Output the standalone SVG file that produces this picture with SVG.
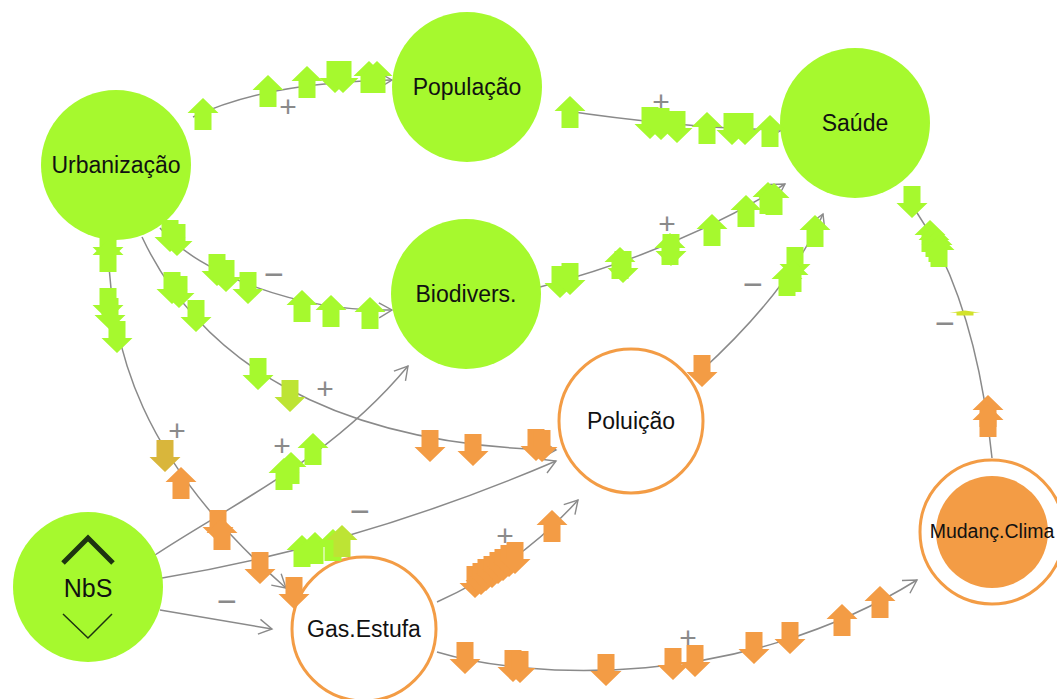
<svg xmlns="http://www.w3.org/2000/svg" xmlns:xlink="http://www.w3.org/1999/xlink" width="1057" height="699" viewBox="0 0 1057 699">
  <style>
    .lnk { fill: none; stroke: #8a8a8a; stroke-width: 1.5; }
    .sgn { font-family: "Liberation Sans", Arial, sans-serif; fill: #8a8a8a; text-anchor: middle; }
    .pl { font-size: 30px; }
    .mn { font-size: 34px; }
    .lbl { font-family: "Liberation Sans", Arial, sans-serif; fill: #111; text-anchor: middle; font-size: 23px; }
    .gn { fill: #a6f92e; }
    .yg { fill: #bde434; }
    .oc { fill: #d9b63b; }
    .or { fill: #f39c45; }
    .ye { fill: #d2e22c; }
    .ring { fill: #fff; stroke: #f39c45; stroke-width: 3; }
  </style>
  <defs>
    <marker id="ah" viewBox="-15 -9 17 18" refX="0" refY="0" markerWidth="17" markerHeight="18" orient="auto" markerUnits="userSpaceOnUse">
      <path d="M-13,-7.5 L0,0 L-13,7.5" fill="none" stroke="#8a8a8a" stroke-width="1.4"/>
    </marker>
    <path id="up" d="M0,-16 L15.5,-1 L8.5,-1 L8.5,16 L-8.5,16 L-8.5,-1 L-15.5,-1 Z"/>
    <path id="dn" d="M0,16 L15.5,1 L8.5,1 L8.5,-16 L-8.5,-16 L-8.5,1 L-15.5,1 Z"/>
  </defs>

  <!-- connectors -->
  <g id="connectors">
    <path class="lnk" d="M193,117 C240,95 300,82 392,80" marker-end="url(#ah)"/>
    <path class="lnk" d="M560,110 Q680,128 782,130" marker-end="url(#ah)"/>
    <path class="lnk" d="M160,228 C200,275 300,312 392,310" marker-end="url(#ah)"/>
    <path class="lnk" d="M540,287 Q680,250 785,184" marker-end="url(#ah)"/>
    <path class="lnk" d="M700,372 Q790,290 823,214" marker-end="url(#ah)"/>
    <path class="lnk" d="M992,458 Q975,290 908,200" marker-end="url(#ah)"/>
    <path class="lnk" d="M142,237 C200,360 330,445 556,450" marker-end="url(#ah)"/>
    <path class="lnk" d="M108,240 C110,350 140,460 286,588" marker-end="url(#ah)"/>
    <path class="lnk" d="M155,555 C230,505 330,460 408,366" marker-end="url(#ah)"/>
    <path class="lnk" d="M162,578 Q360,545 556,461" marker-end="url(#ah)"/>
    <path class="lnk" d="M160,610 Q220,620 272,629" marker-end="url(#ah)"/>
    <path class="lnk" d="M437,602 Q520,565 578,500" marker-end="url(#ah)"/>
    <path class="lnk" d="M437,652 C530,680 740,690 917,580" marker-end="url(#ah)"/>

    <!-- polarity signs -->
    <text class="sgn pl" x="288" y="117">+</text>
    <text class="sgn pl" x="661" y="112">+</text>
    <text class="sgn mn" x="274" y="286">−</text>
    <text class="sgn pl" x="667" y="234">+</text>
    <text class="sgn mn" x="753" y="296">−</text>
    <text class="sgn mn" x="945" y="335">−</text>
    <text class="sgn pl" x="325" y="399">+</text>
    <text class="sgn pl" x="177" y="441">+</text>
    <text class="sgn pl" x="282" y="456">+</text>
    <text class="sgn mn" x="360" y="523">−</text>
    <text class="sgn mn" x="227" y="613">−</text>
    <text class="sgn pl" x="505" y="546">+</text>
    <text class="sgn pl" x="688" y="648">+</text>
  </g>

  <!-- nodes -->
  <g id="node-populacao">
    <circle class="gn" cx="467" cy="87" r="75"/>
    <text class="lbl" x="467" y="95">População</text>
  </g>
  <g id="node-saude">
    <circle class="gn" cx="855" cy="123" r="75"/>
    <text class="lbl" x="855" y="131">Saúde</text>
  </g>
  <g id="node-urbanizacao">
    <circle class="gn" cx="116" cy="165" r="75"/>
    <text class="lbl" x="116" y="173">Urbanização</text>
  </g>
  <g id="node-biodivers">
    <circle class="gn" cx="466" cy="294" r="75"/>
    <text class="lbl" x="466" y="302">Biodivers.</text>
  </g>
  <g id="node-poluicao">
    <circle class="ring" cx="631" cy="421" r="72"/>
    <text class="lbl" x="631" y="429">Poluição</text>
  </g>
  <g id="node-nbs">
    <circle class="gn" cx="88" cy="587" r="75"/>
    <path d="M63,563 L88,538 L113,563" fill="none" stroke="#1d3410" stroke-width="5"/>
    <path d="M63,614 L88,638 L112,614" fill="none" stroke="#1d3410" stroke-width="1.5"/>
    <text class="lbl" x="88" y="597" style="font-size:25px">NbS</text>
  </g>
  <g id="node-gas-estufa">
    <circle class="ring" cx="364" cy="629" r="72"/>
    <text class="lbl" x="364" y="637">Gas.Estufa</text>
  </g>
  <g id="node-mudanca-clima">
    <circle class="ring" cx="992" cy="532" r="72"/>
    <circle class="or" cx="992" cy="532" r="56"/>
    <text class="lbl" x="992" y="538" style="font-size:19.5px">Mudanç.Clima</text>
  </g>

  <!-- flow indicators along the connectors -->
  <g id="flow-marks">
    <!-- Urbanização to População -->
    <use xlink:href="#up" class="gn" x="203" y="114"/>
    <use xlink:href="#up" class="gn" x="268" y="91"/>
    <use xlink:href="#up" class="gn" x="307" y="82"/>
    <use xlink:href="#dn" class="gn" x="335" y="77"/>
    <use xlink:href="#dn" class="gn" x="343" y="77"/>
    <use xlink:href="#up" class="gn" x="369" y="77"/>
    <use xlink:href="#up" class="gn" x="377" y="77"/>

    <!-- População to Saúde -->
    <use xlink:href="#up" class="gn" x="570" y="112"/>
    <use xlink:href="#dn" class="gn" x="650" y="123"/>
    <use xlink:href="#dn" class="gn" x="661" y="124"/>
    <use xlink:href="#dn" class="gn" x="677" y="127"/>
    <use xlink:href="#up" class="gn" x="707" y="128"/>
    <use xlink:href="#dn" class="gn" x="732" y="129"/>
    <use xlink:href="#dn" class="gn" x="745" y="129"/>
    <use xlink:href="#up" class="gn" x="770" y="131"/>

    <!-- Urbanização to Biodivers. -->
    <use xlink:href="#dn" class="gn" x="170" y="236"/>
    <use xlink:href="#dn" class="gn" x="177" y="240"/>
    <use xlink:href="#dn" class="gn" x="217" y="270"/>
    <use xlink:href="#dn" class="gn" x="226" y="276"/>
    <use xlink:href="#dn" class="gn" x="248" y="288"/>
    <use xlink:href="#up" class="gn" x="302" y="306"/>
    <use xlink:href="#up" class="gn" x="331" y="311"/>
    <use xlink:href="#up" class="gn" x="370" y="313"/>

    <!-- Biodivers. to Saúde -->
    <use xlink:href="#dn" class="gn" x="560" y="282"/>
    <use xlink:href="#dn" class="gn" x="570" y="279"/>
    <use xlink:href="#up" class="gn" x="620" y="263"/>
    <use xlink:href="#dn" class="gn" x="623" y="267"/>
    <use xlink:href="#up" class="gn" x="670" y="249"/>
    <use xlink:href="#dn" class="gn" x="671" y="250"/>
    <use xlink:href="#up" class="gn" x="712" y="230"/>
    <use xlink:href="#up" class="gn" x="746" y="211"/>
    <use xlink:href="#up" class="gn" x="768" y="198"/>
    <use xlink:href="#up" class="gn" x="774" y="199"/>

    <!-- Poluição to Saúde -->
    <use xlink:href="#dn" class="or" x="702" y="371"/>
    <use xlink:href="#dn" class="gn" x="795" y="263"/>
    <use xlink:href="#up" class="gn" x="787" y="280"/>
    <use xlink:href="#up" class="gn" x="793" y="276"/>
    <use xlink:href="#up" class="gn" x="815" y="231"/>

    <!-- Mudanç.Clima to Saúde -->
    <use xlink:href="#dn" class="gn" x="912" y="202"/>
    <use xlink:href="#up" class="gn" x="930" y="236"/>
    <use xlink:href="#up" class="gn" x="934" y="241"/>
    <use xlink:href="#up" class="gn" x="937" y="246"/>
    <use xlink:href="#up" class="gn" x="939" y="251"/>
    <use xlink:href="#up" class="ye" transform="translate(965,313) scale(1,0.15)"/>
    <use xlink:href="#up" class="or" x="988" y="411"/>
    <use xlink:href="#up" class="or" x="988" y="421"/>

    <!-- Urbanização to Poluição -->
    <use xlink:href="#dn" class="gn" x="172" y="288"/>
    <use xlink:href="#dn" class="gn" x="179" y="292"/>
    <use xlink:href="#dn" class="gn" x="196" y="316"/>
    <use xlink:href="#dn" class="gn" x="258" y="374"/>
    <use xlink:href="#dn" class="yg" x="290" y="396"/>
    <use xlink:href="#dn" class="or" x="430" y="446"/>
    <use xlink:href="#dn" class="or" x="473" y="450"/>
    <use xlink:href="#dn" class="or" x="536" y="445"/>
    <use xlink:href="#dn" class="or" x="542" y="446"/>

    <!-- Urbanização to Gas.Estufa -->
    <use xlink:href="#dn" class="gn" x="108" y="246"/>
    <use xlink:href="#up" class="gn" x="108" y="256"/>
    <use xlink:href="#dn" class="gn" x="108" y="304"/>
    <use xlink:href="#dn" class="gn" x="110" y="314"/>
    <use xlink:href="#dn" class="gn" x="117" y="337"/>
    <use xlink:href="#dn" class="oc" x="165" y="456"/>
    <use xlink:href="#up" class="or" x="181" y="483"/>
    <use xlink:href="#dn" class="or" x="218" y="526"/>
    <use xlink:href="#up" class="or" x="222" y="534"/>
    <use xlink:href="#dn" class="or" x="260" y="568"/>
    <use xlink:href="#dn" class="or" x="294" y="593"/>

    <!-- NbS to Biodivers. -->
    <use xlink:href="#up" class="gn" x="284" y="474"/>
    <use xlink:href="#up" class="gn" x="291" y="468"/>
    <use xlink:href="#up" class="gn" x="313" y="449"/>

    <!-- NbS to Poluição -->
    <use xlink:href="#up" class="gn" x="302" y="551"/>
    <use xlink:href="#up" class="gn" x="315" y="548"/>
    <use xlink:href="#up" class="gn" x="333" y="545"/>
    <use xlink:href="#up" class="yg" x="342" y="541"/>

    <!-- Gas.Estufa to Poluição -->
    <use xlink:href="#dn" class="or" x="475" y="582"/>
    <use xlink:href="#dn" class="or" x="481" y="579"/>
    <use xlink:href="#dn" class="or" x="486" y="575"/>
    <use xlink:href="#dn" class="or" x="492" y="572"/>
    <use xlink:href="#dn" class="or" x="498" y="568"/>
    <use xlink:href="#dn" class="or" x="503" y="565"/>
    <use xlink:href="#dn" class="or" x="509" y="561"/>
    <use xlink:href="#dn" class="or" x="515" y="558"/>
    <use xlink:href="#up" class="or" x="552" y="526"/>

    <!-- Gas.Estufa to Mudanç.Clima -->
    <use xlink:href="#dn" class="or" x="465" y="658"/>
    <use xlink:href="#dn" class="or" x="513" y="666"/>
    <use xlink:href="#dn" class="or" x="520" y="667"/>
    <use xlink:href="#dn" class="or" x="606" y="670"/>
    <use xlink:href="#dn" class="or" x="673" y="664"/>
    <use xlink:href="#dn" class="or" x="695" y="661"/>
    <use xlink:href="#dn" class="or" x="754" y="648"/>
    <use xlink:href="#dn" class="or" x="790" y="638"/>
    <use xlink:href="#up" class="or" x="842" y="620"/>
    <use xlink:href="#up" class="or" x="880" y="602"/>
  </g>
</svg>
